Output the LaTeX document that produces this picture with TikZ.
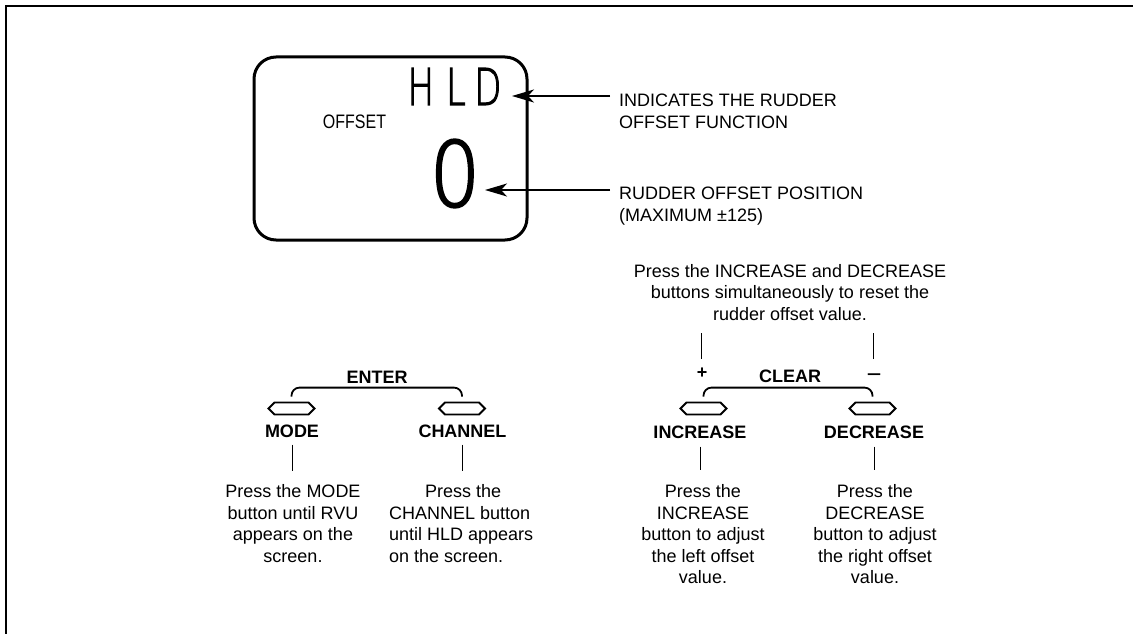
\documentclass[tikz,border=0pt]{standalone}
\usepackage{graphicx}
\usepackage{fontspec}
\setmainfont{Liberation Sans}
\newfontfamily\lcdfont[FakeBold=2.5]{DejaVu Sans ExtraLight}
\usetikzlibrary{shapes.symbols,arrows.meta}
\begin{document}
\begin{tikzpicture}[x=1pt,y=-1pt,
  txt/.style={font=\fontsize{18}{21.5}\selectfont, inner sep=0pt},
  lbl/.style={font=\fontsize{18}{21.5}\selectfont\bfseries, inner sep=0pt},
  btn/.style={draw, shape=signal, signal to=east and west, signal pointer angle=90,
    minimum width=46pt, minimum height=12pt, inner sep=0pt, line width=1.8pt},
  brk/.style={line width=1.8pt, rounded corners=8pt},
  tick/.style={line width=1pt},
  arr/.style={line width=1.1pt, -{Stealth[length=22pt,width=13pt,inset=6pt]}},
  disp/.style={inner sep=0pt}]
\useasboundingbox (0,0) rectangle (1133,634);
\draw[line width=2pt] (6,634) -- (6,6) -- (1133,6);

% display
\node[draw, line width=3pt, rounded corners=22pt, minimum width=273pt, minimum height=183pt, inner sep=0pt] (display) at (390.5,148.5) {};
\node[disp] (hld) at (454.5,86.5) {\scalebox{0.7}[1]{\fontsize{50.7}{50.7}\lcdfont H\kern17pt L\kern12pt D}};
\node[disp] (offset) at (354.5,122) {\scalebox{0.82}[1]{\fontsize{19.5}{19.5}\selectfont OFFSET}};
\node[disp] (zero) at (455,173.5) {\scalebox{0.88}[1]{\fontsize{90}{90}\lcdfont 0}};

\node[txt, anchor=north west, align=left] (lab1) at (619,94) {INDICATES THE RUDDER\\OFFSET FUNCTION};
\node[txt, anchor=north west, align=left] (lab2) at (619,187) {RUDDER OFFSET POSITION\\(MAXIMUM ±125)};
\coordinate (a1) at (610,96);
\coordinate (t1) at (512,96);
\coordinate (a2) at (610,190);
\coordinate (t2) at (485,190);
\draw[arr] (a1) -- (t1);
\draw[arr] (a2) -- (t2);

% left group
\node[lbl] (enter) at (377,377) {ENTER};
\node[btn] (modebtn) at (291.5,408.5) {};
\node[btn] (chanbtn) at (462,408.5) {};
\draw[brk] ([yshift=5pt]modebtn.north) |- ([yshift=14pt]chanbtn.north) -- ([yshift=5pt]chanbtn.north);
\node[lbl] (modelab) at (292,431) {MODE};
\node[lbl] (chanlab) at (462.5,431) {CHANNEL};
\draw[tick] ([yshift=-7pt]modelab.south) -- ++(0,26);
\draw[tick] ([yshift=-7pt]chanlab.south) -- ++(0,26);
\node[txt, align=center, anchor=north] (modedesc) at (293,484.5) {Press the MODE\\button until RVU\\appears on the\\screen.};
\node[txt, align=left, anchor=north west] (chandesc) at (389,484.5) {\hspace*{36pt}Press the\\CHANNEL button\\until HLD appears\\on the screen.};

% right group
\node[txt, align=center, anchor=north] (clearnote) at (790,264) {Press the INCREASE and DECREASE\\buttons simultaneously to reset the\\rudder offset value.};
\node[lbl] (plus) at (702,373.5) {+};
\node[lbl] (minus) at (874,377) {\scalebox{1.4}[1]{–}};
\node[lbl] (clear) at (790,376) {CLEAR};
\draw[tick] (plus.center) ++(-1,-14.5) -- ++(0,-26);
\draw[tick] (minus.center) ++(-1,-18) -- ++(0,-26);
\node[btn] (incbtn) at (703.5,408.5) {};
\node[btn] (decbtn) at (872.5,408.5) {};
\draw[brk] ([yshift=5pt]incbtn.north) |- ([yshift=14pt]decbtn.north) -- ([yshift=5pt]decbtn.north);
\node[lbl] (inclab) at (700,432) {INCREASE};
\node[lbl] (declab) at (874,432) {DECREASE};
\draw[tick] ([yshift=-8pt]inclab.south) -- ++(0,23);
\draw[tick] ([yshift=-8pt]declab.south) -- ++(0,23);
\node[txt, align=center, anchor=north] (incdesc) at (703,484.5) {Press the\\INCREASE\\button to adjust\\the left offset\\value.};
\node[txt, align=center, anchor=north] (decdesc) at (875,484.5) {Press the\\DECREASE\\button to adjust\\the right offset\\value.};
\end{tikzpicture}
\end{document}
